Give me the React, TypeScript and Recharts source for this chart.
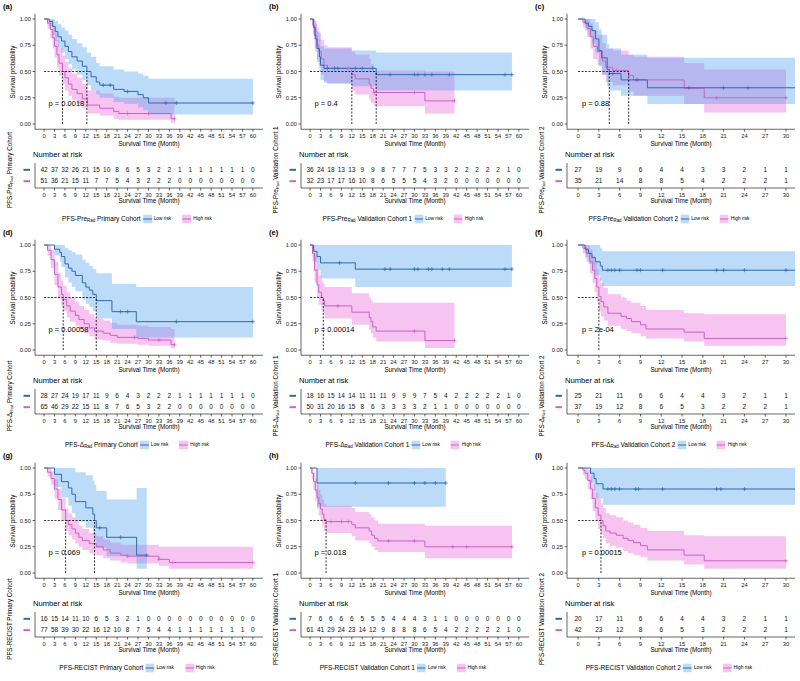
import React from "react";
import {
  ComposedChart,
  ScatterChart,
  Line,
  Area,
  Scatter,
  XAxis,
  YAxis,
  ReferenceLine,
  ReferenceDot,
} from "recharts";

// each step: [time, survival, lower CI, upper CI]
type Step = [number, number, number, number];

const monthsLong = [0, 3, 6, 9, 12, 15, 18, 21, 24, 27, 30, 33, 36, 39, 42, 45, 48, 51, 54, 57, 60];
const monthsShort = [0, 3, 6, 9, 12, 15, 18, 21, 24, 27, 30];
const survTicks = [0, 0.25, 0.5, 0.75, 1];

// (a) PFS-PreRad primary
const aLow: Step[] = [
  [0, 1, 1, 1], [1.5, 0.976, 0.93, 1], [2.5, 0.93, 0.85, 1], [3.2, 0.88, 0.79, 0.98],
  [4, 0.83, 0.73, 0.95], [5, 0.79, 0.68, 0.92], [6, 0.74, 0.62, 0.89], [7, 0.69, 0.57, 0.85],
  [8, 0.64, 0.52, 0.81], [9.5, 0.6, 0.47, 0.77], [11, 0.55, 0.42, 0.73], [12.3, 0.5, 0.37, 0.68],
  [13.5, 0.45, 0.32, 0.64], [15, 0.4, 0.28, 0.58], [16, 0.37, 0.25, 0.55], [20, 0.33, 0.21, 0.52],
  [23, 0.31, 0.19, 0.5], [27, 0.28, 0.16, 0.48], [28.5, 0.25, 0.13, 0.46], [30, 0.2, 0.09, 0.43],
  [60, 0.2, 0.09, 0.43],
];
const aHigh: Step[] = [
  [0, 1, 1, 1], [1, 0.96, 0.91, 1], [1.8, 0.9, 0.82, 0.99], [2.5, 0.82, 0.72, 0.93],
  [3, 0.74, 0.63, 0.87], [3.7, 0.66, 0.54, 0.8], [4.3, 0.58, 0.46, 0.73], [5.3, 0.5, 0.38, 0.65],
  [6, 0.44, 0.32, 0.59], [7, 0.38, 0.27, 0.53], [8, 0.33, 0.23, 0.48], [9.5, 0.29, 0.19, 0.44],
  [11, 0.24, 0.15, 0.38], [12.5, 0.18, 0.1, 0.32], [16, 0.15, 0.08, 0.29], [20, 0.12, 0.05, 0.26],
  [21.5, 0.1, 0.04, 0.25], [36.5, 0.05, 0.01, 0.25], [37.5, 0.05, 0.01, 0.25],
];
const aLowCens = [17, 19, 24, 35, 38, 60];
const aHighCens = [24, 30, 37.5];
const aLowRisk = [42, 37, 32, 26, 21, 15, 10, 8, 6, 5, 3, 2, 2, 1, 1, 1, 1, 1, 1, 1, 0];
const aHighRisk = [51, 36, 21, 15, 11, 7, 7, 5, 4, 3, 2, 2, 2, 0, 0, 0, 0, 0, 0, 0, 0];

// (b) PFS-PreRad validation 1
const bLow: Step[] = [
  [0, 1, 1, 1], [1, 0.92, 0.84, 1], [1.5, 0.81, 0.69, 0.95], [2, 0.72, 0.59, 0.88],
  [2.7, 0.64, 0.5, 0.81], [3, 0.56, 0.42, 0.74], [4, 0.53, 0.39, 0.72], [12, 0.53, 0.36, 0.7],
  [19, 0.47, 0.32, 0.68], [58, 0.47, 0.32, 0.68],
];
const bHigh: Step[] = [
  [0, 1, 1, 1], [0.8, 0.94, 0.86, 1], [1.3, 0.84, 0.72, 0.98], [2, 0.75, 0.62, 0.92],
  [2.5, 0.69, 0.55, 0.87], [3.2, 0.62, 0.47, 0.8], [4, 0.56, 0.41, 0.75], [5, 0.53, 0.38, 0.73],
  [12, 0.47, 0.32, 0.69], [13, 0.43, 0.28, 0.66], [17, 0.38, 0.23, 0.62], [17.5, 0.34, 0.2, 0.57],
  [18.3, 0.3, 0.17, 0.51], [33, 0.22, 0.1, 0.5], [41.5, 0.22, 0.1, 0.5],
];
const bLowCens = [5, 7, 8, 13, 15, 18, 23, 30, 31, 33, 35, 40, 56, 58];
const bHighCens = [7, 11, 18.5, 30, 41.5];
const bLowRisk = [36, 24, 18, 13, 13, 9, 9, 8, 7, 7, 7, 5, 3, 3, 2, 2, 2, 2, 2, 1, 0];
const bHighRisk = [32, 23, 17, 17, 16, 10, 8, 6, 5, 5, 5, 4, 3, 2, 0, 0, 0, 0, 0, 0, 0];

// (c) PFS-PreRad validation 2
const cLow: Step[] = [
  [0, 1, 1, 1], [1, 0.96, 0.89, 1], [1.5, 0.93, 0.83, 1], [2, 0.89, 0.77, 1],
  [2.5, 0.81, 0.68, 0.97], [3, 0.7, 0.55, 0.9], [3.4, 0.63, 0.47, 0.85], [4.2, 0.52, 0.36, 0.76],
  [4.5, 0.48, 0.32, 0.72], [6.2, 0.42, 0.27, 0.66], [10, 0.345, 0.19, 0.63], [31.3, 0.345, 0.19, 0.63],
];
const cHigh: Step[] = [
  [0, 1, 1, 1], [0.7, 0.97, 0.92, 1], [1.3, 0.91, 0.83, 1], [1.8, 0.83, 0.72, 0.96],
  [2.2, 0.74, 0.62, 0.89], [2.8, 0.69, 0.56, 0.85], [3.5, 0.6, 0.47, 0.77], [4, 0.54, 0.4, 0.72],
  [5, 0.51, 0.37, 0.7], [7.3, 0.46, 0.31, 0.66], [8, 0.42, 0.27, 0.64], [15.3, 0.34, 0.19, 0.58],
  [18.2, 0.25, 0.11, 0.52], [30, 0.25, 0.11, 0.52],
];
const cLowCens = [5, 8.5, 16, 21, 24.5];
const cHighCens = [5.5, 8.5, 20, 30];
const cLowRisk = [27, 19, 9, 6, 4, 4, 3, 3, 2, 1, 1];
const cHighRisk = [35, 21, 14, 8, 8, 5, 4, 2, 2, 2, 1];

// (d) PFS-ΔRad primary
const dLow: Step[] = [
  [0, 1, 1, 1], [3, 0.96, 0.9, 1], [4.5, 0.93, 0.84, 1], [5, 0.89, 0.79, 1],
  [6, 0.82, 0.69, 0.97], [7, 0.78, 0.64, 0.95], [8, 0.75, 0.6, 0.93], [9, 0.71, 0.56, 0.91],
  [11, 0.64, 0.48, 0.86], [12, 0.6, 0.44, 0.83], [13, 0.57, 0.41, 0.8], [14, 0.53, 0.37, 0.77],
  [15, 0.47, 0.3, 0.73], [19.5, 0.365, 0.2, 0.63], [26.5, 0.27, 0.12, 0.6], [60, 0.27, 0.12, 0.6],
];
const dHigh: Step[] = [
  [0, 1, 1, 1], [1, 0.95, 0.9, 1], [2, 0.86, 0.78, 0.95], [3, 0.72, 0.62, 0.84],
  [4, 0.6, 0.49, 0.73], [5, 0.53, 0.42, 0.66], [5.5, 0.48, 0.37, 0.61], [6.5, 0.42, 0.31, 0.55],
  [7.5, 0.37, 0.27, 0.5], [9, 0.33, 0.23, 0.46], [10, 0.29, 0.2, 0.42], [11.5, 0.25, 0.16, 0.38],
  [13, 0.21, 0.13, 0.34], [14.5, 0.18, 0.1, 0.3], [17, 0.16, 0.09, 0.28], [19, 0.14, 0.07, 0.26],
  [21, 0.12, 0.06, 0.24], [27, 0.11, 0.05, 0.23], [30, 0.095, 0.04, 0.22], [36.5, 0.05, 0.015, 0.2],
  [37.5, 0.05, 0.015, 0.2],
];
const dLowCens = [22, 24, 38, 60];
const dHighCens = [26, 33, 37.5];
const dLowRisk = [28, 27, 24, 19, 17, 11, 9, 6, 4, 3, 2, 2, 2, 1, 1, 1, 1, 1, 1, 1, 0];
const dHighRisk = [65, 46, 29, 22, 15, 11, 8, 7, 6, 5, 3, 2, 2, 0, 0, 0, 0, 0, 0, 0, 0];

// (e) PFS-ΔRad validation 1
const eLow: Step[] = [
  [0, 1, 1, 1], [1, 0.94, 0.84, 1], [2, 0.89, 0.76, 1], [3, 0.83, 0.68, 1],
  [13, 0.77, 0.6, 1], [58, 0.77, 0.6, 1],
];
const eHigh: Step[] = [
  [0, 1, 1, 1], [0.7, 0.92, 0.85, 1], [1.3, 0.76, 0.64, 0.9], [2, 0.62, 0.5, 0.77],
  [2.5, 0.55, 0.43, 0.71], [3.3, 0.5, 0.38, 0.66], [3.8, 0.47, 0.35, 0.63], [4.2, 0.42, 0.3, 0.6],
  [12, 0.36, 0.24, 0.54], [17, 0.31, 0.19, 0.5], [17.5, 0.27, 0.16, 0.47], [18, 0.22, 0.12, 0.45],
  [19, 0.18, 0.08, 0.45], [33, 0.09, 0.02, 0.45], [41.5, 0.09, 0.02, 0.45],
];
const eLowCens = [8.5, 21.5, 23, 30, 31, 34, 35, 38, 40, 56, 58];
const eHighCens = [8, 30, 41.5];
const eLowRisk = [18, 16, 15, 14, 14, 11, 11, 11, 9, 9, 9, 7, 5, 4, 2, 2, 2, 2, 2, 1, 0];
const eHighRisk = [50, 31, 20, 16, 15, 8, 6, 3, 3, 3, 3, 2, 1, 1, 0, 0, 0, 0, 0, 0, 0];

// (f) PFS-ΔRad validation 2
const fLow: Step[] = [
  [0, 1, 1, 1], [1, 0.96, 0.88, 1], [1.5, 0.92, 0.82, 1], [2, 0.88, 0.76, 1],
  [2.5, 0.84, 0.71, 1], [3.2, 0.8, 0.66, 0.97], [3.5, 0.76, 0.61, 0.94], [31.3, 0.76, 0.61, 0.94],
];
const fHigh: Step[] = [
  [0, 1, 1, 1], [0.7, 0.97, 0.92, 1], [1.2, 0.92, 0.84, 1], [1.7, 0.84, 0.73, 0.96],
  [2.1, 0.76, 0.64, 0.9], [2.4, 0.68, 0.55, 0.84], [2.7, 0.6, 0.46, 0.77], [3, 0.51, 0.37, 0.69],
  [3.3, 0.46, 0.32, 0.64], [3.7, 0.41, 0.28, 0.59], [4.3, 0.35, 0.23, 0.53], [6.2, 0.32, 0.2, 0.5],
  [7, 0.3, 0.18, 0.47], [7.7, 0.27, 0.16, 0.45], [9, 0.24, 0.13, 0.42], [9.8, 0.2, 0.11, 0.38],
  [15.3, 0.17, 0.08, 0.35], [18.2, 0.11, 0.04, 0.34], [30, 0.11, 0.04, 0.34],
];
const fLowCens = [4.3, 4.8, 5.3, 6, 8.5, 9, 12.2, 20, 21, 24, 30];
const fHighCens = [30];
const fLowRisk = [25, 21, 11, 6, 6, 4, 4, 3, 2, 1, 1];
const fHighRisk = [37, 19, 12, 8, 6, 5, 3, 2, 2, 2, 1];

// (g) PFS-RECIST primary
const gLow: Step[] = [
  [0, 1, 1, 1], [3, 0.94, 0.82, 1], [5, 0.87, 0.72, 1], [7, 0.81, 0.64, 1],
  [8, 0.75, 0.57, 1], [9, 0.68, 0.49, 0.96], [12, 0.62, 0.43, 0.93], [14, 0.56, 0.37, 0.88],
  [14.5, 0.5, 0.31, 0.84], [15, 0.43, 0.24, 0.78], [18, 0.34, 0.16, 0.7], [26.6, 0.17, 0.04, 0.81],
  [29.5, 0.17, 0.04, 0.81],
];
const gHigh: Step[] = [
  [0, 1, 1, 1], [1, 0.96, 0.92, 1], [2, 0.9, 0.84, 0.97], [3, 0.8, 0.71, 0.89],
  [4, 0.7, 0.6, 0.8], [5, 0.6, 0.5, 0.71], [6.2, 0.5, 0.4, 0.61], [7, 0.46, 0.36, 0.57],
  [8, 0.42, 0.32, 0.53], [9, 0.38, 0.28, 0.49], [10, 0.34, 0.25, 0.45], [11, 0.31, 0.22, 0.42],
  [13, 0.28, 0.19, 0.38], [15, 0.25, 0.17, 0.35], [17, 0.22, 0.14, 0.32], [19, 0.19, 0.12, 0.29],
  [22, 0.17, 0.1, 0.27], [24, 0.16, 0.09, 0.27], [33, 0.13, 0.07, 0.25], [36, 0.1, 0.04, 0.25],
  [60, 0.1, 0.04, 0.25],
];
const gLowCens = [16, 22, 29.5];
const gHighCens = [24, 33, 37, 60];
const gLowRisk = [16, 15, 14, 11, 10, 6, 5, 3, 2, 1, 0, 0, 0, 0, 0, 0, 0, 0, 0, 0, 0];
const gHighRisk = [77, 58, 39, 30, 22, 16, 12, 10, 8, 7, 5, 4, 4, 1, 1, 1, 1, 1, 1, 1, 0];

// (h) PFS-RECIST validation 1
const hLow: Step[] = [[0, 1, 1, 1], [2, 0.857, 0.63, 1], [39, 0.857, 0.63, 1]];
const hHigh: Step[] = [
  [0, 1, 1, 1], [0.5, 0.95, 0.9, 1], [1, 0.87, 0.79, 0.96], [1.5, 0.79, 0.69, 0.9],
  [2, 0.72, 0.61, 0.84], [2.5, 0.66, 0.55, 0.79], [3, 0.61, 0.5, 0.75], [3.5, 0.56, 0.45, 0.7],
  [4, 0.51, 0.4, 0.66], [4.6, 0.49, 0.38, 0.64], [12, 0.46, 0.35, 0.62], [13, 0.43, 0.31, 0.58],
  [17, 0.4, 0.28, 0.56], [17.7, 0.36, 0.25, 0.53], [18.5, 0.33, 0.22, 0.5], [19.5, 0.305, 0.2, 0.47],
  [33, 0.25, 0.14, 0.45], [58, 0.25, 0.14, 0.45],
];
const hLowCens = [13, 22.5, 30, 33, 36, 39];
const hHighCens = [6, 9, 11, 22.5, 30, 41, 45, 58];
const hLowRisk = [7, 6, 6, 6, 6, 5, 5, 5, 4, 4, 4, 3, 1, 1, 0, 0, 0, 0, 0, 0, 0];
const hHighRisk = [61, 41, 29, 24, 23, 14, 12, 9, 8, 8, 8, 6, 5, 4, 2, 2, 2, 2, 2, 1, 0];

// (i) PFS-RECIST validation 2
const iLow: Step[] = [
  [0, 1, 1, 1], [1.8, 0.95, 0.86, 1], [2.3, 0.9, 0.78, 1], [2.6, 0.85, 0.71, 1],
  [3.6, 0.8, 0.65, 1], [31.3, 0.8, 0.65, 1],
];
const iHigh: Step[] = [
  [0, 1, 1, 1], [0.7, 0.98, 0.93, 1], [1, 0.95, 0.89, 1], [1.4, 0.88, 0.8, 0.98],
  [1.8, 0.8, 0.7, 0.92], [2.1, 0.71, 0.59, 0.85], [2.5, 0.62, 0.5, 0.77], [2.9, 0.55, 0.42, 0.71],
  [3.3, 0.5, 0.37, 0.66], [3.6, 0.45, 0.33, 0.62], [4, 0.4, 0.28, 0.57], [4.6, 0.38, 0.26, 0.55],
  [5.5, 0.36, 0.24, 0.53], [6.5, 0.33, 0.21, 0.5], [7.2, 0.31, 0.19, 0.48], [8, 0.29, 0.17, 0.46],
  [9, 0.26, 0.15, 0.43], [10, 0.22, 0.12, 0.4], [15.3, 0.17, 0.08, 0.36], [18.2, 0.116, 0.04, 0.35],
  [30, 0.116, 0.04, 0.35],
];
const iLowCens = [4.3, 4.8, 5.3, 6, 8.3, 8.7, 12.2, 20, 20.6, 24];
const iHighCens = [30];
const iLowRisk = [20, 17, 11, 6, 6, 4, 4, 3, 2, 1, 1];
const iHighRisk = [42, 23, 12, 8, 6, 5, 3, 2, 2, 2, 1];

const tags = ["a", "b", "c", "d", "e", "f", "g", "h", "i"];
const prefixes = ["PFS-Pre", "PFS-Δ", "PFS-RECIST"];
const cohorts = ["Primary Cohort", "Validation Cohort 1", "Validation Cohort 2"];
const pvals = ["p = 0.0018", "p = 0.4", "p = 0.88", "p = 0.00058", "p = 0.00014", "p = 2e-04", "p = 0.069", "p = 0.018", "p = 0.00015"];
// medians [low, high]; null = not reached
const medians: (number | null)[][] = [
  [12.3, 5.3], [19, 12], [4.5, 7.3],
  [15, 5.5], [null, 3.8], [null, 3],
  [14.5, 6.2], [null, 4.6], [null, 3.3],
];

const lows = [aLow, bLow, cLow, dLow, eLow, fLow, gLow, hLow, iLow];
const highs = [aHigh, bHigh, cHigh, dHigh, eHigh, fHigh, gHigh, hHigh, iHigh];
const lowCens = [aLowCens, bLowCens, cLowCens, dLowCens, eLowCens, fLowCens, gLowCens, hLowCens, iLowCens];
const highCens = [aHighCens, bHighCens, cHighCens, dHighCens, eHighCens, fHighCens, gHighCens, hHighCens, iHighCens];
const lowRisks = [aLowRisk, bLowRisk, cLowRisk, dLowRisk, eLowRisk, fLowRisk, gLowRisk, hLowRisk, iLowRisk];
const highRisks = [aHighRisk, bHighRisk, cHighRisk, dHighRisk, eHighRisk, fHighRisk, gHighRisk, hHighRisk, iHighRisk];

const FONT = '"Liberation Sans", Arial, sans-serif';
const BLUE = "#2E6BB0";
const PINK = "#C764C8";
const BLUE_FILL = "#56A5EE";
const PINK_FILL = "#EB69D9";
const BAND_OP = 0.4;

const colX = [0, 266, 532];
const rowY = [0, 226, 449];

const Txt = ({ x, y, size, children, bold = false, rotate = false, anchor = "middle" }: any) => (
  <div
    style={{
      position: "absolute",
      left: x,
      top: y,
      fontSize: size,
      fontWeight: bold ? 700 : 400,
      whiteSpace: "nowrap",
      lineHeight: 1,
      transform:
        (anchor === "start" ? "translate(0,-50%)" : "translate(-50%,-50%)") + (rotate ? " rotate(-90deg)" : ""),
    }}
  >
    {children}
  </div>
);

const Title = ({ prefix, cohort }: { prefix: string; cohort: string }) => (
  <span>
    {prefix}
    {prefix !== "PFS-RECIST" && (
      <span style={{ fontSize: "68%", verticalAlign: "-0.3em", lineHeight: 0 }}>Rad</span>
    )}{" "}
    {cohort}
  </span>
);

const KeyBox = ({ line, fill }: { line: string; fill: string }) => (
  <svg width={9} height={9} style={{ margin: "0 2px 0 2px", display: "block" }}>
    <rect x={0} y={0} width={9} height={9} fill={fill} fillOpacity={BAND_OP} />
    <line x1={0} x2={9} y1={4.5} y2={4.5} stroke={line} strokeWidth={1} />
  </svg>
);

const plusShape = (color: string) => (props: any) => {
  const { cx, cy } = props;
  return (
    <g>
      <line x1={cx - 2} x2={cx + 2} y1={cy} y2={cy} stroke={color} strokeWidth={0.7} />
      <line x1={cx} x2={cx} y1={cy - 2} y2={cy + 2} stroke={color} strokeWidth={0.7} />
    </g>
  );
};

const riskNumber = (props: any) => (
  <text x={props.cx} y={props.cy} dy="0.35em" textAnchor="middle" fontSize={6.5} fill="#111" fontFamily={FONT}>
    {props.payload.n}
  </text>
);

const riskTick = (props: any) => (
  <rect
    x={23.5}
    y={props.y - 1}
    width={6.5}
    height={2}
    fill={props.payload.value === 2 ? BLUE : PINK}
  />
);

const survAt = (c: Step[], t: number) => {
  let v = c[0][1];
  for (const r of c) if (r[0] <= t) v = r[1];
  return v;
};

function Panel({ idx }: { idx: number }) {
  const col = idx % 3;
  const row = Math.floor(idx / 3);
  const long = col < 2;
  const xDomain = long ? [-2.6, 62.9] : [-1.6, 31.3];
  const ticks = long ? monthsLong : monthsShort;
  const low = lows[idx];
  const high = highs[idx];
  const toRows = (c: Step[]) => c.map(([t, s, lo, hi]) => ({ t, s, band: [lo, hi] }));
  const cens = (c: Step[], ts: number[]) => ts.map((t) => ({ t, s: survAt(c, t) }));
  const meds = medians[idx].filter((m) => m != null) as number[];
  const mMax = Math.max(...meds);
  const lowRiskData = ticks.map((t, i) => ({ t, y: 2, n: lowRisks[idx][i] }));
  const highRiskData = ticks.map((t, i) => ({ t, y: 1, n: highRisks[idx][i] }));
  const pX = long ? 1.3 : 0.55;
  const axisTick = { fontSize: 5.8, fill: "#222", fontFamily: FONT };

  return (
    <div style={{ position: "absolute", left: colX[col], top: rowY[row], width: 266, height: 226 }}>
      <Txt x={3} y={6.5} size={7.5} bold anchor="start">({tags[idx]})</Txt>
      <div style={{ position: "absolute", left: 0, top: 0 }}>
        <ComposedChart width={266} height={150} margin={{ top: 13.75, right: 3, bottom: 0, left: 0 }}>
          <XAxis
            dataKey="t"
            type="number"
            domain={xDomain}
            allowDataOverflow
            ticks={ticks}
            interval={0}
            tickSize={2.5}
            tick={axisTick}
            stroke="#000"
            strokeWidth={0.6}
            height={20.75}
          />
          <YAxis
            dataKey="s"
            type="number"
            domain={[-0.05, 1.05]}
            allowDataOverflow
            ticks={survTicks}
            interval={0}
            tickFormatter={(v: number) => v.toFixed(2)}
            width={35}
            tickSize={2.5}
            tickMargin={1.5}
            tick={axisTick}
            stroke="#000"
            strokeWidth={0.6}
          />
          <Area data={toRows(high)} dataKey="band" type="stepAfter" fill={PINK_FILL} fillOpacity={BAND_OP} stroke="none" isAnimationActive={false} activeDot={false} />
          <Area data={toRows(low)} dataKey="band" type="stepAfter" fill={BLUE_FILL} fillOpacity={BAND_OP} stroke="none" isAnimationActive={false} activeDot={false} />
          <Line data={toRows(high)} dataKey="s" type="stepAfter" stroke={PINK} strokeWidth={1} dot={false} activeDot={false} isAnimationActive={false} />
          <Line data={toRows(low)} dataKey="s" type="stepAfter" stroke={BLUE} strokeWidth={1} dot={false} activeDot={false} isAnimationActive={false} />
          <Scatter data={cens(high, highCens[idx])} dataKey="s" shape={plusShape(PINK)} isAnimationActive={false} />
          <Scatter data={cens(low, lowCens[idx])} dataKey="s" shape={plusShape(BLUE)} isAnimationActive={false} />
          <ReferenceLine segment={[{ x: 0, y: 0.5 }, { x: mMax, y: 0.5 }]} stroke="#000" strokeDasharray="2 1.5" strokeWidth={0.8} />
          {meds.map((m) => (
            <ReferenceLine key={m} segment={[{ x: m, y: 0 }, { x: m, y: 0.5 }]} stroke="#000" strokeDasharray="2 1.5" strokeWidth={0.8} />
          ))}
          <ReferenceDot
            x={pX}
            y={0.2}
            r={0}
            shape={(p: any) => (
              <text x={p.cx} y={p.cy} dy="0.35em" fontSize={7.5} fill="#000" fontFamily={FONT}>
                {pvals[idx]}
              </text>
            )}
          />
        </ComposedChart>
      </div>
      <Txt x={13} y={71.5} size={6.3} rotate>Survival probability</Txt>
      <Txt x={149} y={143.5} size={6.3}>Survival Time (Month)</Txt>

      <Txt x={33} y={155} size={7.6} anchor="start">Number at risk</Txt>
      <div style={{ position: "absolute", left: 0, top: 160 }}>
        <ScatterChart width={266} height={48} margin={{ top: 3, right: 3, bottom: 0, left: 0 }}>
          <XAxis
            dataKey="t"
            type="number"
            domain={xDomain}
            allowDataOverflow
            ticks={ticks}
            interval={0}
            tickSize={2.5}
            tick={axisTick}
            stroke="#000"
            strokeWidth={0.6}
            height={20}
          />
          <YAxis
            dataKey="y"
            type="number"
            domain={[0.4, 2.6]}
            allowDataOverflow
            ticks={[1, 2]}
            interval={0}
            width={35}
            tickLine={false}
            tick={riskTick}
            stroke="#000"
            strokeWidth={0.6}
          />
          <Scatter data={lowRiskData} shape={riskNumber} isAnimationActive={false} />
          <Scatter data={highRiskData} shape={riskNumber} isAnimationActive={false} />
        </ScatterChart>
      </div>
      <Txt x={149} y={201} size={6.3}>Survival Time (Month)</Txt>
      <Txt x={9.5} y={170} size={6.3} rotate>
        <Title prefix={prefixes[row]} cohort={cohorts[col]} />
      </Txt>

      <div
        style={{
          position: "absolute",
          left: 137,
          top: 219,
          transform: "translate(-50%,-50%)",
          display: "flex",
          alignItems: "center",
          whiteSpace: "nowrap",
          lineHeight: 1,
        }}
      >
        <span style={{ fontSize: 6.5 }}>
          <Title prefix={prefixes[row]} cohort={cohorts[col]} />
        </span>
        <KeyBox line={BLUE} fill={BLUE_FILL} />
        <span style={{ fontSize: 4.8, marginRight: 9 }}>Low risk</span>
        <KeyBox line={PINK} fill={PINK_FILL} />
        <span style={{ fontSize: 4.8 }}>High risk</span>
      </div>
    </div>
  );
}

export default function App() {
  return (
    <div
      style={{
        position: "absolute",
        left: 0,
        top: 0,
        width: 800,
        height: 681,
        background: "#fff",
        fontFamily: FONT,
        color: "#000",
        overflow: "hidden",
      }}
    >
      {tags.map((_, i) => (
        <Panel key={i} idx={i} />
      ))}
    </div>
  );
}
